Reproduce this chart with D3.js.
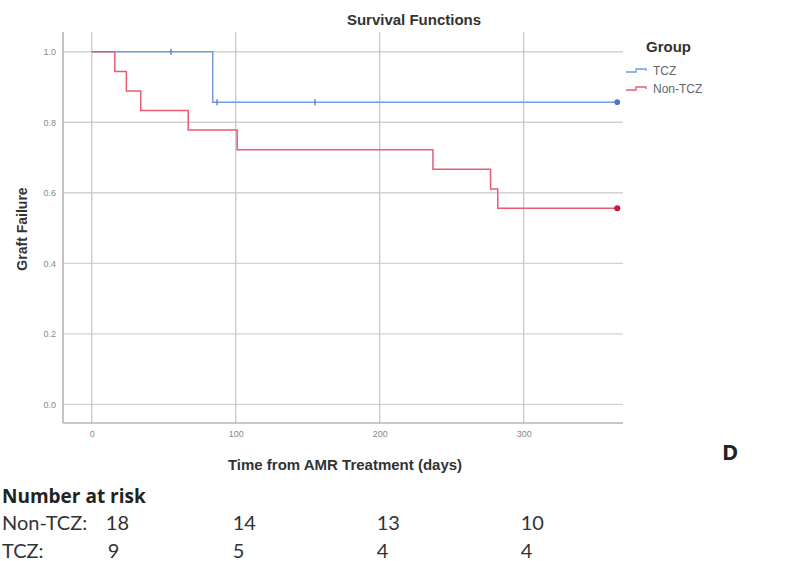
<!DOCTYPE html>
<html lang="en">
  <head>
    <meta charset="UTF-8" />
    <title>Survival Functions</title>
    <script src="https://d3js.org/d3.v7.min.js"></script>
    <style>
      body { margin: 0; background: #fff; }
    </style>
  </head>
  <body>
    <svg width="789" height="561"></svg>
    <script>
      // Kaplan-Meier steps (days, survival)
      const tczTimes = [0, 84, 365];
      const tczSurv = [1.0, 0.857, 0.857];
      const tczCensor = [55, 87, 155];
      const nonTimes = [0, 16, 24, 34, 67, 101, 237, 277, 282, 365];
      const nonSurv = [1.0, 0.944, 0.889, 0.833, 0.778, 0.722, 0.667, 0.611, 0.556, 0.556];
      const xTicks = [0, 100, 200, 300];
      const yTicks = [0.0, 0.2, 0.4, 0.6, 0.8, 1.0];
      const riskTimes = [0, 100, 200, 300];
      const riskNon = [18, 14, 13, 10];
      const riskTcz = [9, 5, 4, 4];

      const svg = d3.select("svg");
      const plot = { left: 63, right: 623, top: 32, bottom: 423 };
      const af = "Arial, 'Liberation Sans', sans-serif";

      const x = d3.scaleLinear().domain([-20, 369]).range([plot.left, plot.right]);
      const y = d3.scaleLinear().domain([-0.053, 1.056]).range([plot.bottom, plot.top]);

      // grid
      svg.append("g").selectAll("line").data(yTicks).join("line")
        .attr("x1", plot.left).attr("x2", plot.right)
        .attr("y1", d => y(d)).attr("y2", d => y(d))
        .attr("stroke", "#d2d2d2").attr("stroke-width", 1.3);
      svg.append("g").selectAll("line").data(xTicks).join("line")
        .attr("y1", plot.top).attr("y2", plot.bottom)
        .attr("x1", d => x(d)).attr("x2", d => x(d))
        .attr("stroke", "#c8c8c8").attr("stroke-width", 1.3);

      // axes (SPSS style: frame lines left/bottom, no tick marks)
      const yAxis = d3.axisLeft(y).tickValues(yTicks).tickFormat(d3.format(".1f")).tickSize(0).tickPadding(7);
      const xAxis = d3.axisBottom(x).tickValues(xTicks).tickFormat(d3.format("d")).tickSize(0).tickPadding(8);
      const gy = svg.append("g").attr("transform", `translate(${plot.left},0)`).call(yAxis);
      const gx = svg.append("g").attr("transform", `translate(0,${plot.bottom})`).call(xAxis);
      [gx, gy].forEach(g => {
        g.select(".domain").attr("stroke", "#b4b4b4").attr("stroke-width", 1.6);
        g.selectAll("text").attr("font-family", af)
          .attr("font-size", 9).attr("fill", "#888");
      });
      gy.select(".domain").attr("d", `M0,${plot.top}V${plot.bottom}`);
      gx.select(".domain").attr("d", `M${plot.left},0H${plot.right}`);

      // step curves
      function stepPath(times, surv) {
        const pts = times.map((t, i) => [x(t), y(surv[i])]);
        return d3.line().curve(d3.curveStepAfter)(pts);
      }
      const blue = "#6f9de0";
      const red = "#ea5a73";
      svg.append("path").attr("d", stepPath(tczTimes, tczSurv))
        .attr("fill", "none").attr("stroke", blue).attr("stroke-width", 1.5);
      svg.append("path").attr("d", stepPath(nonTimes, nonSurv))
        .attr("fill", "none").attr("stroke", red).attr("stroke-width", 1.5);

      // censor ticks
      const survAt = t => tczSurv[d3.bisectRight(tczTimes, t) - 1];
      svg.append("g").selectAll("line").data(tczCensor).join("line")
        .attr("x1", d => x(d)).attr("x2", d => x(d))
        .attr("y1", d => y(survAt(d)) - 3).attr("y2", d => y(survAt(d)) + 3)
        .attr("stroke", "#5b86cc").attr("stroke-width", 1.5);

      // end points
      svg.append("circle").attr("cx", x(tczTimes[tczTimes.length - 1])).attr("cy", y(tczSurv[tczSurv.length - 1]))
        .attr("r", 2.8).attr("fill", "#4a78c8");
      svg.append("circle").attr("cx", x(nonTimes[nonTimes.length - 1])).attr("cy", y(nonSurv[nonSurv.length - 1]))
        .attr("r", 3).attr("fill", "#c8163f");

      // titles
      svg.append("text").attr("x", 414).attr("y", 25).attr("text-anchor", "middle")
        .attr("font-family", af).attr("font-weight", "bold")
        .attr("font-size", 15).attr("fill", "#333").text("Survival Functions");
      svg.append("text").attr("transform", "translate(27,229) rotate(-90)").attr("text-anchor", "middle")
        .attr("font-family", af).attr("font-weight", "bold")
        .attr("font-size", 14).attr("fill", "#333").text("Graft Failure");
      svg.append("text").attr("x", 345).attr("y", 470).attr("text-anchor", "middle")
        .attr("font-family", af).attr("font-weight", "bold")
        .attr("font-size", 15).attr("fill", "#333").text("Time from AMR Treatment (days)");

      // legend
      const lg = svg.append("g").attr("transform", "translate(626,0)");
      lg.append("text").attr("x", 20).attr("y", 52)
        .attr("font-family", af).attr("font-weight", "bold")
        .attr("font-size", 15).attr("fill", "#333").text("Group");
      const legendItems = [{ name: "TCZ", color: blue }, { name: "Non-TCZ", color: red }];
      legendItems.forEach((it, i) => {
        const yy = 72 + i * 18;
        lg.append("path").attr("d", `M0,${yy}H10V${yy - 3}H20V${yy - 1}`)
          .attr("fill", "none").attr("stroke", it.color).attr("stroke-width", 1.3);
        lg.append("text").attr("x", 27).attr("y", yy + 3)
          .attr("font-family", af)
          .attr("font-size", 12).attr("fill", "#666").text(it.name);
      });

      // panel letter
      svg.append("text").attr("x", 722).attr("y", 460)
        .attr("font-family", "'Open Sans', Arial, sans-serif").attr("font-weight", "bold")
        .attr("font-size", 22).attr("fill", "#222").text("D");

      // number at risk table
      const tf = "Lato, 'Open Sans', sans-serif";
      svg.append("text").attr("x", 2).attr("y", 503)
        .attr("font-family", "'Open Sans', sans-serif").attr("font-weight", "bold").attr("font-size", 19)
        .attr("fill", "#222").text("Number at risk");
      const rows = [{ label: "Non-TCZ:", vals: riskNon, y: 530, first: 14 }, { label: "TCZ:", vals: riskTcz, y: 558, first: 16 }];
      rows.forEach(r => {
        svg.append("text").attr("x", 2).attr("y", r.y)
          .attr("font-family", tf).attr("font-size", 20).attr("fill", "#333").text(r.label);
        svg.append("g").selectAll("text").data(r.vals).join("text")
          .attr("x", (d, i) => x(riskTimes[i]) + (i === 0 ? r.first : -3))
          .attr("y", r.y)
          .attr("font-family", tf).attr("font-size", 20).attr("fill", "#333")
          .text(d => d);
      });
    </script>
  </body>
</html>
